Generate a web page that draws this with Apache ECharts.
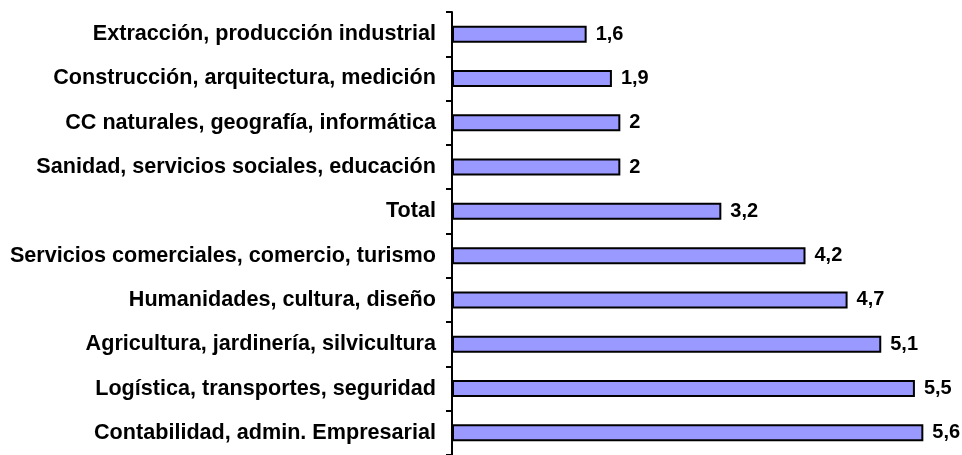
<!DOCTYPE html>
<html>
<head>
<meta charset="utf-8">
<script src="https://cdn.jsdelivr.net/npm/echarts@6/dist/echarts.min.js"></script>
<style>html,body{margin:0;padding:0;background:#fff;}#c{width:962px;height:455px;}</style>
</head>
<body>
<div id="c"></div>
<script>
var categories = [
  "Extracción, producción industrial",
  "Construcción, arquitectura, medición",
  "CC naturales, geografía, informática",
  "Sanidad, servicios sociales, educación",
  "Total",
  "Servicios comerciales, comercio, turismo",
  "Humanidades, cultura, diseño",
  "Agricultura, jardinería, silvicultura",
  "Logística, transportes, seguridad",
  "Contabilidad, admin. Empresarial"
];
var values = [1.6, 1.9, 2, 2, 3.2, 4.2, 4.7, 5.1, 5.5, 5.6];

var chart = echarts.init(document.getElementById('c'));
chart.setOption({
  animation: false,
  grid: { left: 452, right: 5, top: 12, height: 447, containLabel: false },
  xAxis: { type: 'value', min: 0, max: 6, show: false },
  yAxis: {
    type: 'category', data: categories, inverse: true,
    axisLine: { show: true, lineStyle: { color: '#000', width: 2 } },
    axisTick: { show: true, length: 6, lineStyle: { color: '#000', width: 2 } },
    axisLabel: { margin: 16, color: '#000', fontFamily: 'Liberation Sans, Arial', fontWeight: 'bold', fontSize: 21.6 },
    splitLine: { show: false }
  },
  series: [{
    type: 'bar', data: values, barWidth: 17,
    itemStyle: { color: '#9999FF', borderColor: '#000', borderWidth: 2 },
    label: {
      show: true, position: 'right', distance: 9, color: '#000',
      fontFamily: 'Liberation Sans, Arial', fontWeight: 'bold', fontSize: 20,
      formatter: function (p) { return String(p.value).replace('.', ','); }
    }
  }]
});
</script>
</body>
</html>
